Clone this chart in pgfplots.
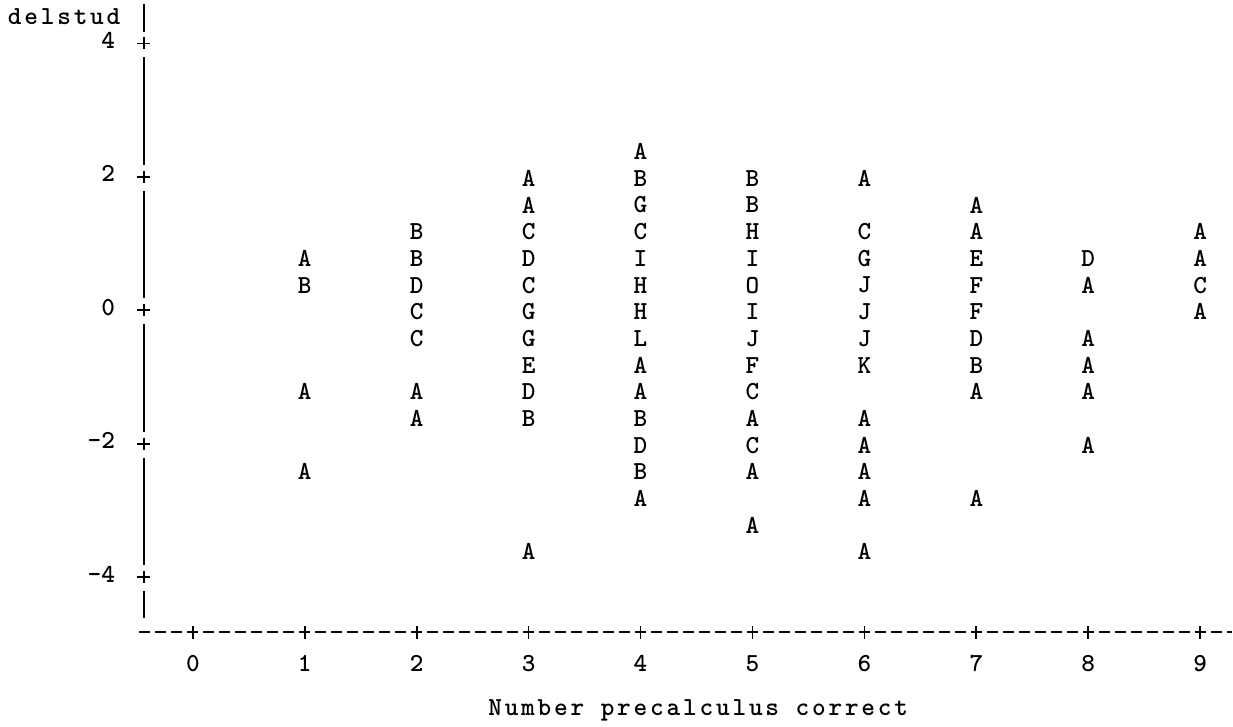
\documentclass[border=0pt]{standalone}
\usepackage{fontspec}
\usepackage{pgfplots}
\usepackage{pgfplotstable}
\pgfplotsset{compat=1.18}
\newfontfamily\cour{lmmonolt10-bold}[Extension=.otf,LetterSpace=10.9]
\newfontfamily\courn{lmmonolt10-bold}[Extension=.otf]
\newcommand{\fsz}{\fontsize{13pt}{15.6pt}\selectfont}

\pgfplotstableread{
x y l
1 0.8 A
1 0.4 B
1 -1.2 A
1 -2.4 A
2 1.2 B
2 0.8 B
2 0.4 D
2 0 C
2 -0.4 C
2 -1.2 A
2 -1.6 A
3 2.0 A
3 1.6 A
3 1.2 C
3 0.8 D
3 0.4 C
3 0 G
3 -0.4 G
3 -0.8 E
3 -1.2 D
3 -1.6 B
3 -3.6 A
4 2.4 A
4 2.0 B
4 1.6 G
4 1.2 C
4 0.8 I
4 0.4 H
4 0 H
4 -0.4 L
4 -0.8 A
4 -1.2 A
4 -1.6 B
4 -2.0 D
4 -2.4 B
4 -2.8 A
5 2.0 B
5 1.6 B
5 1.2 H
5 0.8 I
5 0.4 O
5 0 I
5 -0.4 J
5 -0.8 F
5 -1.2 C
5 -1.6 A
5 -2.0 C
5 -2.4 A
5 -3.2 A
6 2.0 A
6 1.2 C
6 0.8 G
6 0.4 J
6 0 J
6 -0.4 J
6 -0.8 K
6 -1.6 A
6 -2.0 A
6 -2.4 A
6 -2.8 A
6 -3.6 A
7 1.6 A
7 1.2 A
7 0.8 E
7 0.4 F
7 0 F
7 -0.4 D
7 -0.8 B
7 -1.2 A
7 -2.8 A
8 0.8 D
8 0.4 A
8 -0.4 A
8 -0.8 A
8 -1.2 A
8 -2.0 A
9 1.2 A
9 0.8 A
9 0.4 C
9 0 A
}\datatable

\begin{document}
\begin{tikzpicture}
\begin{axis}[
  scale only axis,
  width=544.5pt, height=314.35pt,
  xmin=-0.4375, xmax=9.2857, ymin=-4.8270, ymax=4.5918,
  axis lines=left,
  axis line style={draw=none},
  clip=false,
  xtick={0,1,2,3,4,5,6,7,8,9},
  xticklabels={0,1,2,3,4,5,6,7,8,9},
  ytick={-4,-2,0,2,4},
  yticklabels={-4,-2,0,2,4},
  tick align=center,
  major tick length=6.5pt,
  tick style={black, line width=0.85pt},
  ticklabel style={font=\fsz\courn, inner sep=0pt},
  xticklabel style={anchor=base, yshift=-16.15pt},
  yticklabel style={anchor=base east, xshift=-11pt, yshift=-2.5pt},
  xlabel={Number precalculus correct},
  ylabel={delstud},
  every axis x label/.style={at={(axis description cs:0.50826,-0.13250)}, anchor=base, inner sep=0pt, font=\fsz\cour, xshift=0.6pt},
  every axis y label/.style={at={(axis description cs:-0.07438,0.96660)}, anchor=base, inner sep=0pt, font=\fsz\cour, xshift=0.6pt},
]
\addplot[draw=none, mark=none,
  point meta=explicit symbolic,
  nodes near coords,
  nodes near coords align=center,
  every node near coord/.append style={font=\fsz\courn, text=black, inner sep=0pt, anchor=center, yshift=-0.75pt}]
  table[x=x, y=y, meta=l] {\datatable};

% y axis drawn as line-printer "|" segments
\draw[black, line width=0.85pt]
  (axis cs:-0.4375,4.5918) -- (axis cs:-0.4375,4.1723)
  (axis cs:-0.4375,4.0899) -- (axis cs:-0.4375,3.9101)
  (axis cs:-0.4375,3.7903) -- (axis cs:-0.4375,2.1798)
  (axis cs:-0.4375,2.0899) -- (axis cs:-0.4375,1.9101)
  (axis cs:-0.4375,1.7903) -- (axis cs:-0.4375,0.1798)
  (axis cs:-0.4375,0.0899) -- (axis cs:-0.4375,-0.0899)
  (axis cs:-0.4375,-0.2097) -- (axis cs:-0.4375,-1.8202)
  (axis cs:-0.4375,-1.9101) -- (axis cs:-0.4375,-2.0899)
  (axis cs:-0.4375,-2.2097) -- (axis cs:-0.4375,-3.8202)
  (axis cs:-0.4375,-3.9101) -- (axis cs:-0.4375,-4.0899)
  (axis cs:-0.4375,-4.2022) -- (axis cs:-0.4375,-4.6067);
% x axis drawn as line-printer dashes
\draw[black, line width=0.85pt, dash pattern=on 5.5pt off 2.5pt]
  (axis cs:-0.47768,-4.8270) -- (axis cs:9.2857,-4.8270);
% page extent
\path (axis cs:-1.72321,4.6517) rectangle (axis cs:9.2857,-6.2397);
\end{axis}
\end{tikzpicture}
\end{document}
